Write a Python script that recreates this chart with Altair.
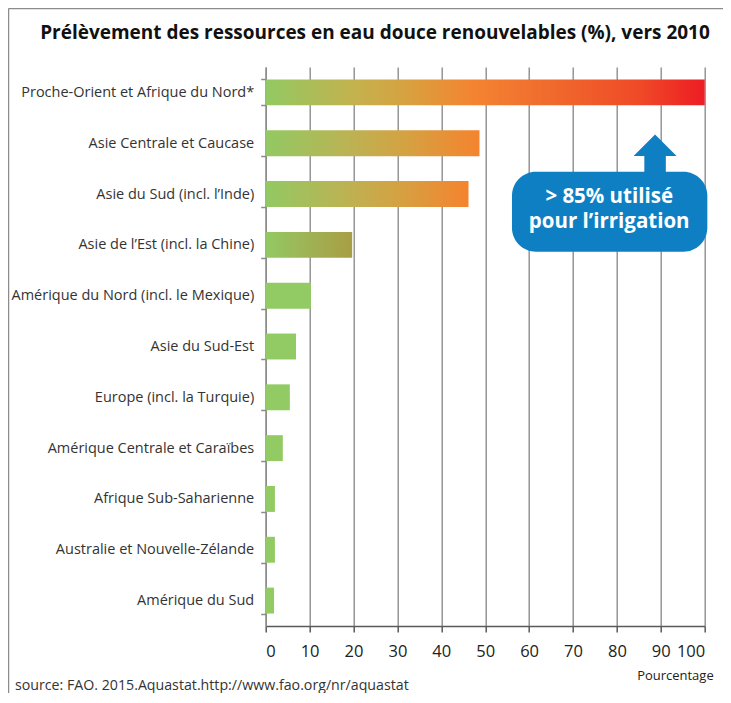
import altair as alt
import pandas as pd

# ---- data ----
regions = [
    "Proche-Orient et Afrique du Nord*",
    "Asie Centrale et Caucase",
    "Asie du Sud (incl. l’Inde)",
    "Asie de l’Est (incl. la Chine)",
    "Amérique du Nord (incl. le Mexique)",
    "Asie du Sud-Est",
    "Europe (incl. la Turquie)",
    "Amérique Centrale et Caraïbes",
    "Afrique Sub-Saharienne",
    "Australie et Nouvelle-Zélande",
    "Amérique du Sud",
]
values = [100, 48.7, 46.2, 19.7, 10.3, 6.9, 5.5, 3.9, 2.1, 2.1, 1.9]
x_ticks = [0, 10, 20, 30, 40, 50, 60, 70, 80, 90, 100]

# per-bar gradient fills (styles) for the long bars
gradient_regions = regions[:4]
gradient_stops = [
    [("#92c963", 0.0), ("#c3b24e", 0.2), ("#d9a03f", 0.33), ("#f48431", 0.47),
     ("#f06a2d", 0.65), ("#ef4a27", 0.85), ("#ed1c24", 1.0)],
    [("#92c963", 0.0), ("#bbb354", 0.38), ("#d4a242", 0.65), ("#f5832f", 1.0)],
    [("#92c963", 0.0), ("#bbb354", 0.38), ("#d4a242", 0.65), ("#f5832f", 1.0)],
    [("#92c963", 0.0), ("#9fb254", 0.5), ("#a89e44", 1.0)],
]
solid_green = "#92cb64"

callout_line1 = "> 85% utilisé"
callout_line2 = "pour l’irrigation"
callout_x = [56.1]
callout_x2 = [100.6]
arrow_x = [88.7]

title_text = "Prélèvement des ressources en eau douce renouvelables (%), vers 2010"
x_title = "Pourcentage"
source_text = "source: FAO. 2015.Aquastat.http://www.fao.org/nr/aquastat"

FONT = "Open Sans"

df = pd.DataFrame({"region": regions, "value": values})

x_enc = alt.X(
    "value:Q",
    scale=alt.Scale(domain=[0, 100], nice=False, zero=True),
    axis=alt.Axis(values=x_ticks, grid=True, title=None, format="d"),
)
y_enc = alt.Y(
    "region:N",
    sort=regions,
    scale=alt.Scale(paddingInner=0.49, paddingOuter=0.245),
    axis=alt.Axis(title=None, tickBand="extent"),
)

base = alt.Chart(df)

solid = base.mark_bar(color=solid_green).encode(x=x_enc, y=y_enc).transform_filter(
    alt.FieldOneOfPredicate(field="region", oneOf=regions[4:])
)

layers = [solid]
for reg, stops in zip(gradient_regions, gradient_stops):
    grad = alt.Gradient(
        gradient="linear",
        stops=[alt.GradientStop(color=c, offset=o) for c, o in stops],
        x1=0, x2=1, y1=0, y2=0,
    )
    layers.append(
        base.mark_bar(fill=grad)
        .encode(x=x_enc, y=y_enc)
        .transform_filter(alt.datum.region == reg)
    )

ann = alt.Chart(pd.DataFrame({"x": callout_x, "x2": callout_x2}))
callout_box = ann.mark_rect(color="#0f7fc3", cornerRadius=24).encode(
    x="x:Q", x2="x2:Q", y=alt.value(104.7), y2=alt.value(184.7)
)
arrow = alt.Chart(pd.DataFrame({"x": arrow_x})).mark_point(
    shape="M0,-1 L1,0 L0.5,0 L0.5,0.9 L-0.5,0.9 L-0.5,0 L-1,0 Z",
    filled=True, color="#0f7fc3", opacity=1, size=1849, strokeWidth=0,
).encode(x="x:Q", y=alt.value(89))
callout_t1 = ann.mark_text(
    font=FONT, fontSize=20.5, fontWeight="bold", color="white",
    align="center", baseline="middle",
).encode(x=alt.value(343.5), y=alt.value(130), text=alt.value(callout_line1))
callout_t2 = ann.mark_text(
    font=FONT, fontSize=20.5, fontWeight="bold", color="white",
    align="center", baseline="middle",
).encode(x=alt.value(343.5), y=alt.value(154.7), text=alt.value(callout_line2))

title = ann.mark_text(
    font=FONT, fontSize=19, fontWeight="bold", color="#111",
    align="center", baseline="middle",
).encode(x=alt.value(109.3), y=alt.value(-34), text=alt.value(title_text))

xtitle = ann.mark_text(
    font=FONT, fontSize=13, color="#222", align="right", baseline="middle"
).encode(x=alt.value(448), y=alt.value(609), text=alt.value(x_title))

source = ann.mark_text(
    font=FONT, fontSize=14.2, color="#333", align="left", baseline="bottom"
).encode(x=alt.value(-250.7), y=alt.value(626), text=alt.value(source_text))

frame_left = ann.mark_rule(color="#8c8c8c", strokeWidth=1.5).encode(
    x=alt.value(-257.2), y=alt.value(-58.5), y2=alt.value(640)
)
frame_top = ann.mark_rule(color="#8c8c8c", strokeWidth=1.5).encode(
    x=alt.value(-257.2), x2=alt.value(460), y=alt.value(-58.5)
)

chart = alt.layer(
    *layers, callout_box, arrow, callout_t1, callout_t2, title, xtitle, source,
    frame_left, frame_top
).properties(
    width=439,
    height=559,
    autosize=alt.AutoSizeParams(type="none"),
    padding={"left": 257.7, "top": 59, "right": 18, "bottom": 67},
).configure_view(
    stroke=None
).configure_axisX(
    domainColor="#5a5a5a", domainWidth=1.5, tickColor="#5a5a5a", tickWidth=1.5,
    tickSize=6, gridColor="#858585", gridWidth=1.3,
    labelFont=FONT, labelFontSize=16.5, labelColor="#222", labelPadding=12,
).configure_axisY(
    domainColor="#8c8c8c", domainWidth=1.5, tickColor="#8c8c8c", tickWidth=1.5,
    tickSize=5, labelFont=FONT, labelFontSize=14.5, labelColor="#333",
    labelPadding=7, labelLimit=400,
)

chart.save("out.html", embed_options={"renderer": "svg", "actions": False})
